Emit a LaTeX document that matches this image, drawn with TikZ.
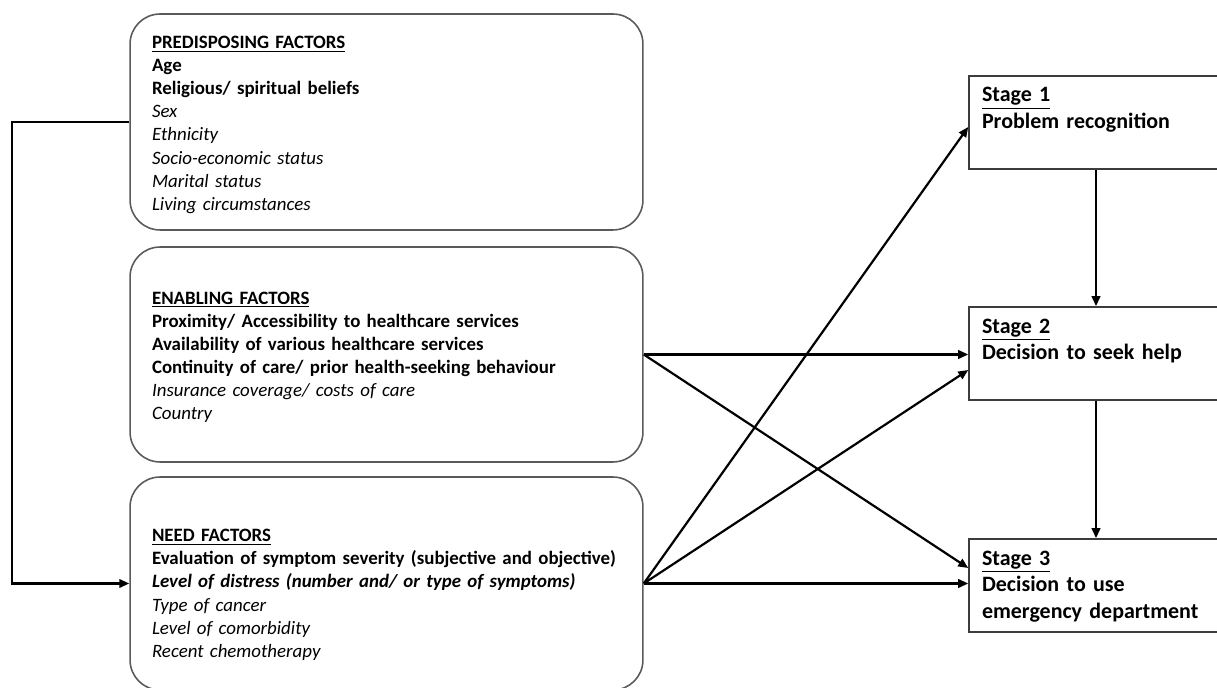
\documentclass[tikz,border=0pt]{standalone}
\usepackage{fontspec}
\setmainfont{Carlito}
\usepackage{xcolor}
\usepackage{tikz}
\usetikzlibrary{arrows.meta}

\definecolor{boxgray}{HTML}{5A5A5A}
\definecolor{stagegray}{HTML}{3C3C3C}

\begin{document}
\begin{tikzpicture}[x=0.02cm, y=-0.02cm,
    >={Triangle[length=2mm, width=1.7mm]},
    factorbox/.style={draw=boxgray, line width=0.9pt, rounded corners=0.6cm,
        minimum width=10.26cm, text width=9.38cm, inner xsep=0.44cm,
        align=left, text height=0.36cm,
        font=\fontsize{10.75}{13.15}\selectfont},
    stagebox/.style={draw=stagegray, line width=0.9pt,
        minimum width=5.08cm, minimum height=1.86cm, text width=4.56cm,
        inner xsep=0.26cm, inner ysep=2pt, align=left,
        text height=0.32cm, text depth=1.14cm,
        font=\fontsize{12.5}{15.1}\selectfont\bfseries},
    link/.style={->, line width=1.25pt}]
    \useasboundingbox (0,0) rectangle (1217,688);
    \clip (0,0) rectangle (1217,688);

    % Predisposing factors
    \node[factorbox, minimum height=4.32cm] (pre) at (386.5,122) {%
        \textbf{\underline{PREDISPOSING FACTORS}}\\
        \textbf{Age}\\
        \textbf{Religious/ spiritual beliefs}\\
        \textit{Sex}\\
        \textit{Ethnicity}\\
        \textit{Socio-economic status}\\
        \textit{Marital status}\\
        \textit{Living circumstances}};

    % Enabling factors
    \node[factorbox, minimum height=4.3cm] (enab) at (386.5,354.5) {%
        \textbf{\underline{ENABLING FACTORS}}\\
        \textbf{Proximity/ Accessibility to healthcare services}\\
        \textbf{Availability of various healthcare services}\\
        \textbf{Continuity of care/ prior health-seeking behaviour}\\
        \textit{Insurance coverage/ costs of care}\\
        \textit{Country}};

    % Need factors (text sits a little lower in its box)
    \node[factorbox, minimum height=4.26cm, text height=0.7cm] (need) at (386.5,583.5) {%
        \textbf{\underline{NEED FACTORS}}\\
        \textbf{Evaluation of symptom severity (subjective and objective)}\\
        \textbf{\textit{Level of distress (number and/ or type of symptoms)}}\\
        \textit{Type of cancer}\\
        \textit{Level of comorbidity}\\
        \textit{Recent chemotherapy}};

    % Stages
    \node[stagebox] (stage1) at (1096,122.5) {\underline{Stage 1}\\Problem recognition};
    \node[stagebox] (stage2) at (1096,353.5) {\underline{Stage 2}\\Decision to seek help};
    \node[stagebox] (stage3) at (1096,585.5) {\underline{Stage 3}\\Decision to use\\emergency department};

    % Arrows
    \draw[link] (pre.west) -- ++(-117,0) |- (need.west);
    \draw[link] (enab.east) -- (enab.east -| stage2.west);
    \draw[link] (enab.east) -- ([yshift=0.35cm]stage3.west);
    \draw[link] (need.east) -- ([yshift=-0.09cm]stage1.west);
    \draw[link] (need.east) -- ([yshift=-0.33cm]stage2.west);
    \draw[link] (need.east) -- (need.east -| stage3.west);
    \draw[link] (stage1) -- (stage2);
    \draw[link] (stage2) -- (stage3);

\end{tikzpicture}
\end{document}
